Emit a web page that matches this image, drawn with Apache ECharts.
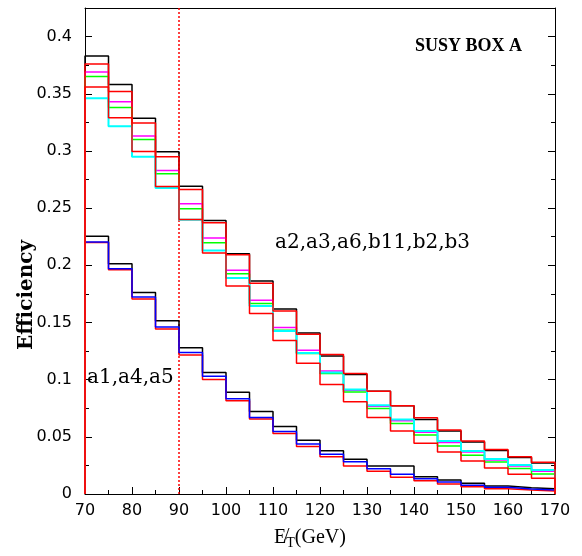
<!DOCTYPE html>
<html><head><meta charset="utf-8">
<script src="https://cdn.jsdelivr.net/npm/echarts@6/dist/echarts.min.js"></script>
<style>html,body{margin:0;padding:0;background:#fff}#c{width:582px;height:556px}</style>
</head><body><div id="c"></div>
<script>
// bin edges (GeV)
const binEdges = [70,75,80,85,90,95,100,105,110,115,120,125,130,135,140,145,150,155,160,165,170];
// upper group: a2,a3,a6,b11,b2,b3
const upBlack   = [0.383,0.358,0.3285,0.2994,0.2692,0.2392,0.2101,0.1862,0.1618,0.1408,0.1207,0.1045,0.0899,0.0771,0.0652,0.0550,0.0454,0.0381,0.0320,0.0270];
const upRed     = [0.376,0.352,0.3245,0.2950,0.2663,0.2372,0.2093,0.1842,0.1600,0.1397,0.1220,0.1054,0.0899,0.0771,0.0666,0.0559,0.0463,0.0390,0.0326,0.0277];
const upMagenta = [0.369,0.343,0.3130,0.2828,0.2538,0.2238,0.1956,0.1694,0.1455,0.1257,0.1076,0.0908,0.0768,0.0640,0.0539,0.0451,0.0367,0.0297,0.0244,0.0200];
const upGreen   = [0.365,0.338,0.3100,0.2800,0.2494,0.2197,0.1927,0.1665,0.1432,0.1228,0.1054,0.0893,0.0748,0.0617,0.0515,0.0419,0.0338,0.0279,0.0224,0.0175];
const upCyan    = [0.346,0.3215,0.2950,0.2677,0.2398,0.2130,0.1889,0.1644,0.1426,0.1234,0.1063,0.0914,0.0777,0.0652,0.0550,0.0463,0.0375,0.0306,0.0253,0.0210];
const upRed2    = [0.356,0.329,0.2995,0.2690,0.2400,0.2107,0.1819,0.1578,0.1342,0.1144,0.0958,0.0806,0.0670,0.0550,0.0443,0.0367,0.0288,0.0227,0.0172,0.0137];
// lower group: a1,a4,a5
const loBlack = [0.2255,0.2014,0.1763,0.1516,0.1280,0.1062,0.0890,0.0722,0.0591,0.0469,0.0378,0.0303,0.0244,0.0244,0.0151,0.0122,0.0093,0.0070,0.0055,0.0046];
const loBlue  = [0.2203,0.1970,0.1723,0.1461,0.1237,0.1030,0.0832,0.0670,0.0547,0.0437,0.0347,0.0282,0.0221,0.0172,0.0134,0.0105,0.0076,0.0058,0.0044,0.0035];
const loRed   = [0.2200,0.1962,0.1705,0.1443,0.1216,0.1001,0.0815,0.0655,0.0530,0.0416,0.0326,0.0244,0.0198,0.0146,0.0116,0.0087,0.0064,0.0046,0.0035,0.0026];
const cutValue = 90;
const xTicks = [70,80,90,100,110,120,130,140,150,160,170];
const yTicks = [0,0.05,0.1,0.15,0.2,0.25,0.3,0.35,0.4];
const labelUpper = 'a2,a3,a6,b11,b2,b3';
const labelLower = 'a1,a4,a5';
const boxTitle = 'SUSY BOX A';
const yTitle = 'Efficiency';

function hist(values){
  const pts = [[binEdges[0], 0]];
  values.forEach((v,i)=>pts.push([binEdges[i], v]));
  pts.push([binEdges[binEdges.length-1], values[values.length-1]]);
  pts.push([binEdges[binEdges.length-1], 0]);
  return pts;
}
function s(values, color, w){
  return {type:'line', step:'end', data: hist(values), showSymbol:false, symbol:'none',
    lineStyle:{color:color, width:w||1.5}, silent:true, z:2};
}
const tickFont = {color:'#000', fontFamily:'DejaVu Sans', fontSize:16};
const chart = echarts.init(document.getElementById('c'), null, {renderer:'canvas'});
const xMin = xTicks[0], xMax = xTicks[xTicks.length-1];
const yMax = 0.425;
function yFmt(v){ const k=v/0.05; return Math.abs(k-Math.round(k))<1e-6 && v<=yTicks[yTicks.length-1]+1e-9 ? String(+v.toFixed(2)) : ''; }
chart.setOption({
  animation:false,
  backgroundColor:'#fff',
  grid:{left:85, right:27, top:8, bottom:62, show:false},
  xAxis:[
    {type:'value', min:xMin, max:xMax, interval:10, position:'bottom',
     axisLine:{show:true, lineStyle:{color:'#000', width:1}},
     axisTick:{show:true, inside:true, length:7, lineStyle:{color:'#000'}},
     minorTick:{show:true, splitNumber:2, length:4, lineStyle:{color:'#000'}},
     axisLabel:Object.assign({margin:9}, tickFont), splitLine:{show:false}},
    {type:'value', min:xMin, max:xMax, interval:10, position:'top',
     axisLine:{show:true, onZero:false, lineStyle:{color:'#000', width:1}},
     axisTick:{show:false}, axisLabel:{show:false}, splitLine:{show:false}}
  ],
  yAxis:[
    {type:'value', min:0, max:yMax, interval:0.05, position:'left',
     axisLine:{show:true, lineStyle:{color:'#000', width:1}},
     axisTick:{show:true, inside:true, length:7, lineStyle:{color:'#000'}},
     minorTick:{show:true, splitNumber:2, length:4, lineStyle:{color:'#000'}},
     axisLabel:Object.assign({margin:13, formatter:yFmt}, tickFont), splitLine:{show:false}},
    {type:'value', min:0, max:yMax, interval:0.05, position:'right',
     axisLine:{show:true, onZero:false, lineStyle:{color:'#000', width:1}},
     axisTick:{show:true, inside:true, length:7, lineStyle:{color:'#000'}},
     minorTick:{show:true, splitNumber:2, length:4, lineStyle:{color:'#000'}},
     axisLabel:{show:false}, splitLine:{show:false}}
  ],
  series:[
    {type:'line', data:[[cutValue,0],[cutValue,yMax]], showSymbol:false, symbol:'none',
     lineStyle:{color:'#ff0000', width:1.5, type:[2,2]}, silent:true, z:1},
    s(loBlack,'#000000'),
    s(loRed,'#ff0000'),
    s(loBlue,'#0000ff'),
    s(upBlack,'#000000'),
    s(upMagenta,'#ff00ff'),
    s(upGreen,'#00ff00'),
    s(upCyan,'#00ffff', 2),
    s(upRed2,'#ff0000'),
    s(upRed,'#ff0000')
  ],
  graphic:[
    {type:'text', left:415, top:37, style:{text:boxTitle, font:'bold 18px "Liberation Serif"', fill:'#000'}},
    {type:'text', left:275, top:233, style:{text:labelUpper, font:'20px "DejaVu Serif"', fill:'#000'}},
    {type:'text', left:87, top:368, style:{text:labelLower, font:'20px "DejaVu Serif"', fill:'#000'}},
    {type:'text', x:27, y:295, rotation:Math.PI/2, style:{text:yTitle, font:'bold 20px "DejaVu Serif"', fill:'#000', align:'center', verticalAlign:'middle'}},
    {type:'text', x:310, y:538, style:{text:'{e|E\u0338}{t|T}{n|(GeV)}', align:'center', verticalAlign:'middle',
      rich:{e:{fontFamily:'Liberation Serif', fontSize:20, fill:'#000'},
            t:{fontFamily:'Liberation Serif', fontSize:14, fill:'#000', padding:[10,0,0,0]},
            n:{fontFamily:'Liberation Serif', fontSize:20, fill:'#000'}}}}
  ]
});
</script></body></html>
